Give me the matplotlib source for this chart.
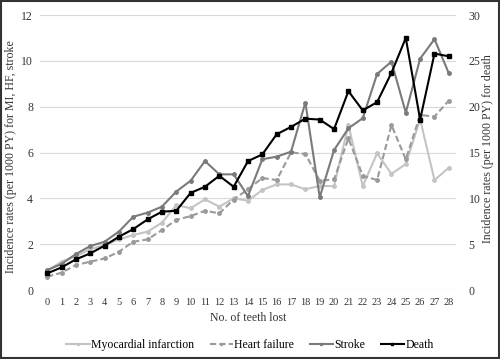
import matplotlib
matplotlib.use("Agg")
import matplotlib.pyplot as plt
from matplotlib.patches import Rectangle

plt.rcParams["font.family"] = ["Liberation Serif", "DejaVu Serif"]

teeth_lost = list(range(29))
mi = [0.84, 1.24, 1.48, 1.78, 1.97, 2.21, 2.40, 2.55, 2.94, 3.71, 3.57, 3.96, 3.64, 4.00, 3.90,
      4.37, 4.61, 4.61, 4.40, 4.54, 4.54, 7.20, 4.54, 5.97, 5.07, 5.50, 7.45, 4.80, 5.34]
hf = [0.58, 0.76, 1.09, 1.24, 1.38, 1.67, 2.11, 2.21, 2.62, 3.06, 3.23, 3.46, 3.35, 3.95, 4.40,
      4.89, 4.80, 6.01, 5.94, 4.77, 4.83, 6.62, 4.99, 4.80, 7.20, 5.70, 7.64, 7.57, 8.27]
stroke = [0.87, 1.14, 1.57, 1.92, 2.11, 2.55, 3.20, 3.38, 3.64, 4.30, 4.77, 5.63, 5.05, 5.05, 4.10,
          5.71, 5.82, 6.04, 8.18, 4.05, 6.11, 7.06, 7.50, 9.43, 9.97, 7.74, 10.10, 10.95, 9.46]
death = [1.82, 2.47, 3.35, 4.00, 4.84, 5.82, 6.65, 7.71, 8.55, 8.65, 10.6, 11.27, 12.47, 11.27, 14.07,
         14.8, 17.0, 17.8, 18.7, 18.6, 17.56, 21.7, 19.6, 20.5, 23.7, 27.5, 18.6, 25.8, 25.5]

fig = plt.figure(figsize=(5.0, 3.59), dpi=100)
ax = fig.add_axes([0.08, 0.192, 0.832, 0.766])
ax2 = ax.twinx()

l1, = ax.plot(teeth_lost, mi, color="#c4c4c4", linewidth=1.5, marker="o", markersize=2.5,
              label="Myocardial infarction")
l2, = ax.plot(teeth_lost, hf, color="#9a9a9a", linewidth=1.5, linestyle=(0, (3, 1.5)),
              marker="o", markersize=2.5, label="Heart failure")
l3, = ax.plot(teeth_lost, stroke, color="#7a7a7a", linewidth=1.5, marker="o", markersize=2.5,
              label="Stroke")
l4, = ax2.plot(teeth_lost, death, color="black", linewidth=1.5, marker="s", markersize=3.5,
               label="Death")

ax.set_xlim(-0.5, 28.5)
ax.set_ylim(0, 12)
ax.set_yticks(range(0, 13, 2))
ax2.set_ylim(0, 30)
ax2.set_yticks(range(0, 31, 5))
ax.set_xticks(teeth_lost)

ax.grid(axis="y", color="#d9d9d9", linewidth=0.8)
ax.set_axisbelow(True)
for a in (ax, ax2):
    for s in a.spines.values():
        s.set_visible(False)
    a.tick_params(length=0, labelsize=8.5, colors="#333333")
ax.tick_params(axis="y", pad=5)
ax2.tick_params(axis="y", pad=9)
ax.tick_params(axis="x", pad=6, labelsize=7.5)

ax.set_xlabel("No. of teeth lost", fontsize=8.5, color="#333333", labelpad=3)
ax.set_ylabel("Incidence rates (per 1000 PY) for MI, HF, stroke", fontsize=8.6, color="#333333")
ax2.set_ylabel("Incidence rates (per 1000 PY) for death", fontsize=8.6, color="#333333")
ax.yaxis.set_label_coords(-0.055, 0.484)
ax2.yaxis.set_label_coords(1.062, 0.516)

fig.legend(handles=[l1, l2, l3, l4], loc="center", bbox_to_anchor=(0.5, 0.04), ncol=4,
           frameon=False, fontsize=8.5, handlelength=2.0, handletextpad=0.1, columnspacing=1.3,
           markerscale=0.6)

fig.add_artist(Rectangle((0.002, 0.003), 0.996, 0.994, transform=fig.transFigure,
                         fill=False, edgecolor="#333333", linewidth=1.5))

fig.savefig("out.png", dpi=100)
